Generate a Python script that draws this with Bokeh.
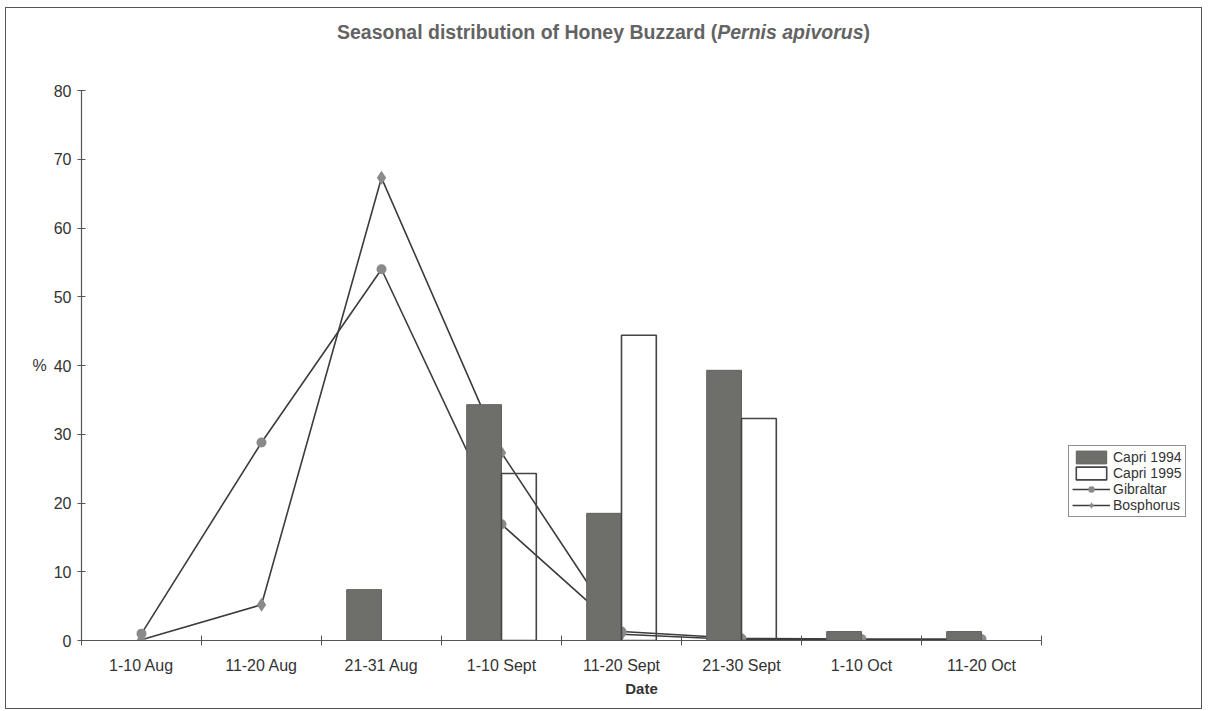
import numpy as np
from bokeh.plotting import figure
from bokeh.layouts import column
from bokeh.models import (ColumnDataSource, Range1d, FixedTicker, Legend, LegendItem, Div)
from bokeh.embed import file_html
from bokeh.resources import INLINE

categories = ["1-10 Aug", "11-20 Aug", "21-31 Aug", "1-10 Sept",
              "11-20 Sept", "21-30 Sept", "1-10 Oct", "11-20 Oct"]
capri_1994 = [None, None, 7.4, 34.3, 18.5, 39.3, 1.3, 1.3]
capri_1995 = [None, None, None, 24.3, 44.4, 32.3, None, None]
gibraltar = [1.0, 28.8, 54.0, 16.9, 1.3, 0.3, 0.2, 0.2]
bosphorus = [0.1, 5.2, 67.3, 27.3, 0.9, 0.1, 0.1, 0.1]
y_ticks = [0, 10, 20, 30, 40, 50, 60, 70, 80]

FONT = "Liberation Sans"
TXT = "#333333"
DARK = "#6e6f6a"
LINE = "#3c3c3c"
MARK = "#8a8a8a"

n = len(categories)
centers = np.arange(n) + 0.5
bw = 0.29
src = ColumnDataSource(dict(
    xc=centers,
    x94=centers - bw / 2,
    x95=centers + bw / 2,
    c94=np.array(capri_1994, dtype=float),
    c95=np.array(capri_1995, dtype=float),
    gib=np.array(gibraltar, dtype=float),
    bos=np.array(bosphorus, dtype=float),
))

W = 1195
LEFT = 75
AXIS_PX = 960          # pixel length of the category axis
frame_w = W - LEFT
x_end = n * frame_w / AXIS_PX   # frame extends to the right to hold the legend

p = figure(width=W, height=647, output_backend="svg", toolbar_location=None,
           x_range=Range1d(0, x_end), y_range=Range1d(0, 80),
           min_border_left=LEFT, min_border_right=0, min_border_top=29,
           min_border_bottom=68)
p.outline_line_color = None
p.grid.visible = False
p.background_fill_color = "white"
p.border_fill_color = "white"

# lines and markers (drawn beneath bars)
lg = p.line("xc", "gib", source=src, line_color=LINE, line_width=1.6)
mg = p.scatter("xc", "gib", source=src, marker="circle", size=10,
               fill_color=MARK, line_color=None)
lb = p.line("xc", "bos", source=src, line_color=LINE, line_width=1.6)
mb = p.scatter("xc", "bos", source=src, marker="diamond", size=14,
               fill_color=MARK, line_color=None)

b94 = p.vbar(x="x94", top="c94", bottom=0, width=bw, source=src,
             fill_color=DARK, line_color="#5f605b", line_width=1)
b95 = p.vbar(x="x95", top="c95", bottom=0, width=bw, source=src,
             fill_color=None, line_color="#444444", line_width=1.6)

# axes
xa = p.xaxis[0]
xa.bounds = (0, n)
xa.ticker = FixedTicker(ticks=list(centers), minor_ticks=list(range(n + 1)))
xa.major_label_overrides = {float(c): lab for c, lab in zip(centers, categories)}
xa.major_tick_in = 0
xa.major_tick_out = 0
xa.minor_tick_in = 5
xa.minor_tick_out = 5
xa.minor_tick_line_color = "#555555"
xa.axis_line_color = "#555555"
xa.axis_line_width = 1.2
xa.major_label_standoff = 11
xa.major_label_text_font = FONT
xa.major_label_text_font_size = "16px"
xa.major_label_text_color = TXT
xa.axis_label = "Date"
xa.axis_label_text_font = FONT
xa.axis_label_text_font_size = "15px"
xa.axis_label_text_font_style = "bold"
xa.axis_label_text_color = TXT
xa.axis_label_standoff = 3

ya = p.yaxis[0]
ya.ticker = FixedTicker(ticks=y_ticks)
ya.major_tick_in = 4
ya.major_tick_out = 4
ya.minor_tick_line_color = None
ya.major_tick_line_color = "#555555"
ya.axis_line_color = "#555555"
ya.axis_line_width = 1.2
ya.major_label_standoff = 6
ya.major_label_text_font = FONT
ya.major_label_text_font_size = "16px"
ya.major_label_text_color = TXT
ya.axis_label = "%"
ya.axis_label_orientation = "horizontal"
ya.axis_label_text_font = FONT
ya.axis_label_text_font_size = "16px"
ya.axis_label_text_font_style = "normal"
ya.axis_label_text_color = TXT
ya.axis_label_standoff = 4

legend = Legend(items=[
    LegendItem(label="Capri 1994", renderers=[b94]),
    LegendItem(label="Capri 1995", renderers=[b95]),
    LegendItem(label="Gibraltar", renderers=[lg, mg]),
    LegendItem(label="Bosphorus", renderers=[lb, mb]),
], location=(987, 123), orientation="vertical")
legend.border_line_color = "#222222"
legend.border_line_width = 1
legend.background_fill_color = "white"
legend.background_fill_alpha = 1
legend.label_text_font = FONT
legend.label_text_font_size = "14px"
legend.label_text_color = TXT
legend.glyph_width = 38
legend.glyph_height = 16
legend.label_height = 15
legend.label_standoff = 3
legend.padding = 3
legend.spacing = 0
legend.margin = 0
p.add_layout(legend)

title = Div(
    text=('<div style="font-family:\'Liberation Sans\'; font-size:19.5px; '
          'font-weight:bold; color:#636363; text-align:center; '
          'line-height:48px; width:%dpx;">'
          'Seasonal distribution of Honey Buzzard (<i>Pernis apivorus</i>)</div>') % W,
    width=W, height=53, margin=(0, 0, 0, 0))

layout = column(title, p, spacing=0, margin=(7, 0, 0, 5))
layout.styles = {"border": "1px solid #555555", "background": "white"}

open("out.html", "w").write(file_html(layout, INLINE))
